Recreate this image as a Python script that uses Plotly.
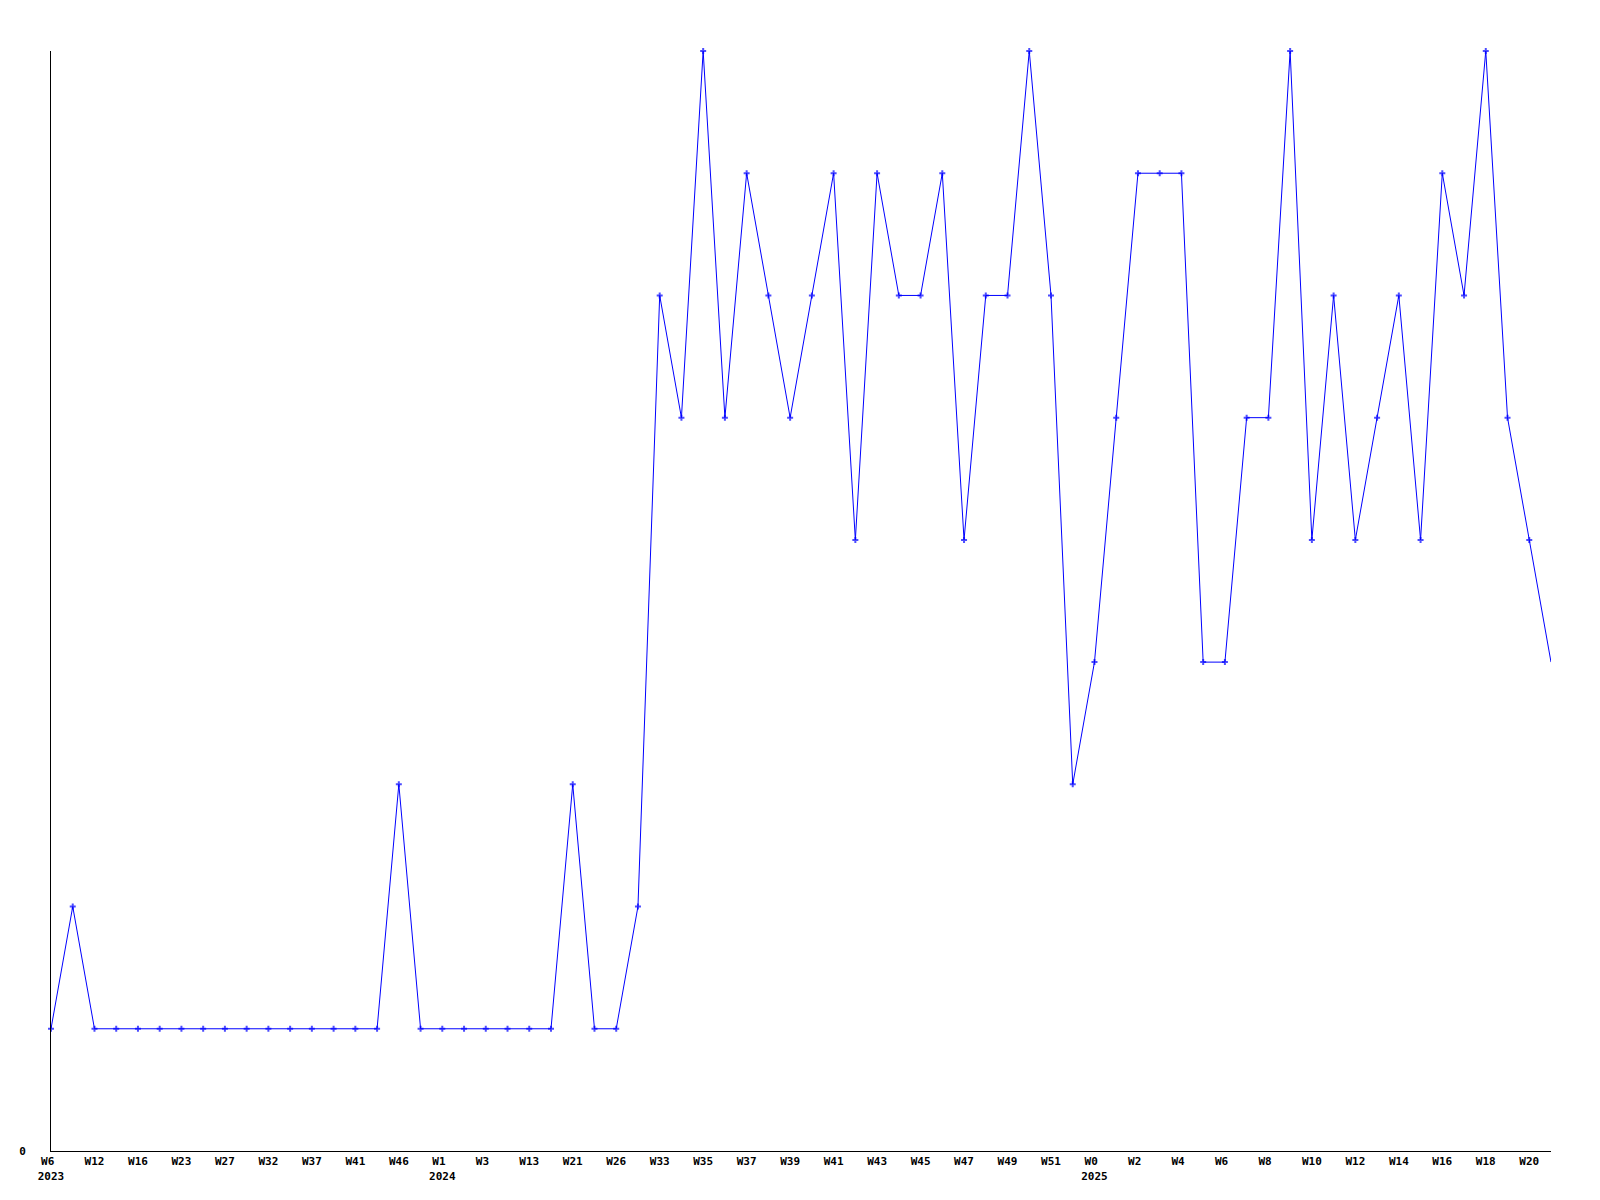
import plotly.graph_objects as go

# counts per sample (y axis levels 0..9)
values = [1, 2, 1, 1, 1, 1, 1, 1, 1, 1,
          1, 1, 1, 1, 1, 1, 3, 1, 1, 1,
          1, 1, 1, 1, 3, 1, 1, 2, 7, 6,
          9, 6, 8, 7, 6, 7, 8, 5, 8, 7,
          7, 8, 5, 7, 7, 9, 7, 3, 4, 6,
          8, 8, 8, 4, 4, 6, 6, 9, 5, 7,
          5, 6, 7, 5, 8, 7, 9, 6, 5, 4]

# labels shown on every second sample
week_labels = ["W6", "W12", "W16", "W23", "W27", "W32", "W37", "W41", "W46",
               "W1", "W3", "W13", "W21", "W26", "W33", "W35", "W37", "W39",
               "W41", "W43", "W45", "W47", "W49", "W51",
               "W0", "W2", "W4", "W6", "W8", "W10", "W12", "W14", "W16", "W18", "W20"]
year_labels = ["2023", "", "", "", "", "", "", "", "",
               "2024", "", "", "", "", "", "", "", "",
               "", "", "", "", "", "",
               "2025", "", "", "", "", "", "", "", "", "", ""]

x = list(range(len(values)))
tickvals = x[::2]
ticktext = []
for w, yv in zip(week_labels, year_labels):
    wl = w if len(w) >= 3 else w + " "
    ticktext.append(wl + ("<br>" + yv if yv else ""))

sizes = [5] * (len(values) - 1) + [0]

fig = go.Figure()
fig.add_trace(go.Scatter(
    x=x, y=values, mode="lines+markers",
    line=dict(color="#0000FF", width=1),
    marker=dict(symbol="cross", size=sizes, color="#0000FF", line=dict(width=0)),
    cliponaxis=False,
    hoverinfo="skip",
))

tf = dict(family="DejaVu Sans Mono", size=11, color="black", weight="bold")
fig.update_layout(
    width=1600, height=1200,
    margin=dict(l=43, r=57, t=43, b=57),
    paper_bgcolor="white", plot_bgcolor="white",
    showlegend=False,
    font=dict(family="DejaVu Sans Mono", size=11, color="black"),
    xaxis=dict(
        range=[0, len(values) - 1],
        tickmode="array", tickvals=tickvals, ticktext=ticktext,
        showgrid=False, zeroline=False,
        showline=True, linecolor="black", linewidth=1,
        ticks="", tickfont=tf, tickangle=0,
    ),
    yaxis=dict(
        range=[0, 9],
        tickmode="array", tickvals=[0], ticktext=["0"],
        showgrid=False, zeroline=False,
        showline=True, linecolor="black", linewidth=1,
        ticks="", ticklabelstandoff=22, tickfont=tf,
    ),
)

fig.write_html("out.html")
